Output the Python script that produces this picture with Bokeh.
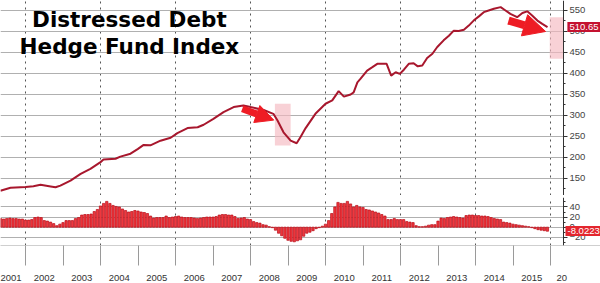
from bokeh.plotting import figure
from bokeh.layouts import column
from bokeh.models import (Range1d, FixedTicker, Label, BoxAnnotation, Arrow, NormalHead)
from bokeh.embed import file_html
from bokeh.resources import INLINE

# ---------------- data ----------------
title_lines = ["Distressed Debt", "Hedge Fund Index"]

index_dates = [2001.33, 2001.6, 2002.0, 2002.21, 2002.4, 2002.67, 2002.8, 2002.93, 2003.2, 2003.47,
               2003.73, 2004.0, 2004.08, 2004.4, 2004.53, 2004.8, 2004.99, 2005.15, 2005.33, 2005.6,
               2005.87, 2006.05, 2006.32, 2006.59, 2006.75, 2007.01, 2007.28, 2007.55, 2007.81, 2008.0,
               2008.35, 2008.61, 2008.72, 2008.88, 2009.07, 2009.23, 2009.33, 2009.47, 2009.73, 2010.0,
               2010.18, 2010.35, 2010.49, 2010.67, 2010.75, 2010.85, 2010.93, 2011.11, 2011.25, 2011.38,
               2011.63, 2011.75, 2011.87, 2011.98, 2012.09, 2012.22, 2012.35, 2012.46, 2012.58, 2012.71,
               2012.85, 2012.98, 2013.15, 2013.29, 2013.42, 2013.55, 2013.69, 2013.82, 2013.95, 2014.09,
               2014.22, 2014.35, 2014.49, 2014.67, 2014.8, 2014.93, 2015.11, 2015.25, 2015.38, 2015.51,
               2015.65, 2015.78, 2015.92]
index_values = [121, 128, 129.5, 131.7, 135, 131, 129, 133, 145, 161,
                173, 189, 195, 197, 202, 209, 220, 230, 229, 240,
                247, 258, 270, 272, 278, 292, 308, 320, 324, 320,
                313, 304, 288, 260, 240, 234, 248, 270, 304, 328,
                336, 358, 345, 350, 355, 379, 387, 407, 415, 423,
                423, 395, 403, 399, 409, 423, 424.5, 417, 419, 437,
                447, 463, 479, 490, 502, 501, 504, 514, 526, 536,
                546, 550, 554, 558, 550, 542, 534, 544, 548, 538,
                526, 518, 510.65]
last_index = 510.65

# monthly YoY change, first bar = May 2001
bar_start_year = 2001
bar_start_month = 5
yoy_values = [17, 16, 17, 18, 17, 17, 16, 16,
              14, 14, 15, 19, 20, 19, 13, 12, 10, 7, 3, 6, 9, 13, 13, 13,
              17, 19, 24, 25, 25, 26, 31, 35, 42, 47, 51, 47, 43, 41, 40, 36, 33, 30, 31, 33, 32, 30, 29, 27, 22,
              18, 19, 19, 19, 22, 19, 20, 21, 22, 20, 19, 19, 19, 18, 17, 18, 19, 20, 20, 20,
              21, 24, 25, 25, 24, 24, 21, 17, 18, 19, 16, 15, 11, 9, 8, 5, 4, 1, -1, -6,
              -12, -17, -22, -26, -28, -29, -27,
              -25, -18, -12, -10, -7, -3, -1, 2, 6, 13, 27, 40, 49, 47, 47, 51, 46, 40, 43, 40,
              39, 35, 34, 32, 30, 28, 25, 22, 15, 15, 17, 15, 15, 15, 11, 10, 9, 3, 1, 1,
              2, 4, 5, 5, 12, 18, 17, 19,
              20, 21, 20, 19, 18, 23, 24, 24, 23, 23, 22, 22, 21, 19, 17, 16, 15, 10, 9, 8,
              6, 5, 4, 3, 2, 1, -1, -3, -5, -6, -7, -8.0223]
last_yoy = -8.0223

years = list(range(2001, 2017))
top_ticks = [150, 200, 250, 300, 350, 400, 450, 500, 550]
bottom_ticks = [-20, 0, 20, 40]

# ---------------- style ----------------
LINE_COLOR = "#a8172d"
ARROW_RED = "#ee1c24"
FONT = "Liberation Sans"
X_START, X_AXIS, X_END = 2001.333, 2016.347, 2017.333

bar_x = [bar_start_year + (bar_start_month - 1 + i) / 12.0 for i in range(len(yoy_values))]

x_range = Range1d(X_START, X_END)

def style_common(p, yticks, yminor, ylo, yhi):
    p.outline_line_color = None
    p.background_fill_color = "white"
    p.border_fill_color = "white"
    p.xgrid.ticker = FixedTicker(ticks=[y for y in years if y % 2 == 0])
    p.ygrid.ticker = FixedTicker(ticks=yticks)
    p.xgrid.grid_line_color = "#555555"
    p.xgrid.grid_line_dash = "dotted"
    p.xgrid.grid_line_width = 1
    p.ygrid.grid_line_color = "#b0b0b0"
    p.ygrid.grid_line_dash = "solid"
    p.ygrid.grid_line_width = 1
    # blank strip right of the axis line (grid lines stop at the axis)
    p.quad(left=[X_AXIS], right=[X_END + 1], bottom=[ylo - 100], top=[yhi + 100],
           fill_color="white", line_color=None)
    ax = p.yaxis[0]
    ax.fixed_location = X_AXIS
    ax.ticker = FixedTicker(ticks=yticks, minor_ticks=yminor)
    ax.axis_line_color = "#333333"
    ax.major_tick_line_color = "#333333"
    ax.minor_tick_line_color = "#333333"
    ax.major_tick_out = 4
    ax.major_tick_in = 0
    ax.minor_tick_out = 2
    ax.minor_tick_in = 0
    ax.major_label_standoff = 2
    ax.major_label_text_font = FONT
    ax.major_label_text_font_size = "9.5px"
    ax.major_label_text_color = "#444444"

# ---------- top panel ----------
p1 = figure(width=600, height=195, x_range=x_range, y_range=Range1d(109.5, 573.8),
            output_backend="svg", toolbar_location=None, x_axis_location="below",
            y_axis_location="right", min_border=0)
p1.xaxis.visible = False
style_common(p1, top_ticks, [t + 25 for t in top_ticks] + [125], 109.5, 573.8)

p1.add_layout(BoxAnnotation(left=2008.65, right=2009.07, bottom=228.6, top=327.9,
                            fill_color="#f4b9c0", fill_alpha=0.65, line_color=None, level="underlay"))
p1.add_layout(BoxAnnotation(left=2015.98, right=X_AXIS, bottom=435, top=534,
                            fill_color="#f4b9c0", fill_alpha=0.65, line_color=None, level="underlay"))

p1.line(index_dates, index_values, line_color=LINE_COLOR, line_width=2)

p1.add_layout(Arrow(end=NormalHead(size=18, fill_color=ARROW_RED, line_color=ARROW_RED),
                    x_start=2007.78, y_start=316, x_end=2008.62, y_end=289,
                    line_color=ARROW_RED, line_width=7))
p1.add_layout(Arrow(end=NormalHead(size=22, fill_color=ARROW_RED, line_color=ARROW_RED),
                    x_start=2014.88, y_start=526, x_end=2015.87, y_end=500,
                    line_color=ARROW_RED, line_width=8))

title_y = [528.0, 465.0]
for txt, ty in zip(title_lines, title_y):
    p1.add_layout(Label(x=2004.77, y=ty, text=txt, text_align="center", text_baseline="middle",
                        text_font="DejaVu Sans", text_font_style="bold", text_font_size="21.5px",
                        text_color="black"))

p1.add_layout(Label(x=2016.45, y=last_index, text=f"{last_index:.2f}", text_align="left",
                    text_baseline="middle", text_font=FONT, text_font_size="9.5px",
                    text_color="white", background_fill_color="#c41230", padding=2))

# ---------- separator ----------
sep = figure(width=600, height=2, output_backend="svg", toolbar_location=None,
             x_axis_location=None, y_axis_location=None, min_border=0)
sep.grid.visible = False
sep.outline_line_color = None
sep.background_fill_color = "#8c8c8c"
sep.border_fill_color = "#8c8c8c"

# ---------- bottom panel ----------
p2 = figure(width=600, height=86, x_range=x_range, y_range=Range1d(-36.3, 58.7),
            output_backend="svg", toolbar_location=None, y_axis_location="right",
            min_border_left=0, min_border_right=0, min_border_top=0, min_border_bottom=20)
style_common(p2, bottom_ticks, [-30, -10, 10, 30, 50], -36.3, 58.7)

p2.vbar(x=bar_x, top=yoy_values, bottom=0, width=0.062,
        fill_color="#f0373d", line_color="#b80d18", line_width=0.7)

label_ticks = [y + 0.5 for y in years[:-1]] + [2016.3]
label_text = [str(y) for y in years[:-1]] + ["20"]
xa = p2.xaxis[0]
xa.ticker = FixedTicker(ticks=label_ticks, minor_ticks=years)
xa.major_label_overrides = dict(zip(label_ticks, label_text))
xa.major_tick_out = 0
xa.major_tick_in = 0
xa.minor_tick_out = 20
xa.minor_tick_in = 0
xa.minor_tick_line_color = "#9a9a9a"
xa.axis_line_color = "#cfcfcf"
xa.major_label_standoff = 9
xa.major_label_text_font = FONT
xa.major_label_text_font_size = "9.5px"
xa.major_label_text_color = "#333333"

p2.add_layout(Label(x=2016.40, y=-7.5, text=f"{last_yoy:.4f}", text_align="left",
                    text_baseline="middle", text_font=FONT, text_font_size="9.5px",
                    text_color="white", background_fill_color="#e3262e", padding=2))

layout = column(p1, sep, p2, spacing=0)
open("out.html", "w").write(file_html(layout, INLINE))
